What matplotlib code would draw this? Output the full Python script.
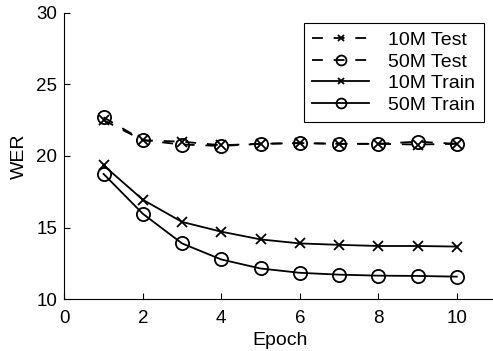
import matplotlib
matplotlib.use("Agg")
import matplotlib.pyplot as plt

plt.rcParams['font.family'] = ['Liberation Sans', 'DejaVu Sans']

epochs = [1, 2, 3, 4, 5, 6, 7, 8, 9, 10]
test_10m = [22.5, 21.1, 21.0, 20.75, 20.85, 20.9, 20.85, 20.85, 20.8, 20.85]
test_50m = [22.7, 21.1, 20.8, 20.7, 20.85, 20.9, 20.85, 20.85, 21.0, 20.85]
train_10m = [19.35, 16.95, 15.4, 14.72, 14.18, 13.9, 13.8, 13.72, 13.72, 13.68]
train_50m = [18.75, 15.97, 13.9, 12.78, 12.15, 11.85, 11.72, 11.65, 11.63, 11.58]
labels = ['10M Test', '50M Test', '10M Train', '50M Train']
xticks = [0, 2, 4, 6, 8, 10]
yticks = [10, 15, 20, 25, 30]

W, H = 493, 351
fig = plt.figure(figsize=(W / 100, H / 100), dpi=100)
ax = fig.add_axes([64.3 / W, 1 - 299.3 / H, (496 - 64.3) / W, 286.6 / H])

lw = 1.3
dash = (0, (6, 6))
ax.plot(epochs, test_10m, color='black', linestyle=dash, lw=lw, marker='x', ms=6.5, mew=1.3, label=labels[0])
ax.plot(epochs, test_50m, color='black', linestyle=dash, lw=lw, marker='o', ms=9.5, mfc='none', mew=1.3, label=labels[1])
ax.plot(epochs, train_10m, color='black', linestyle='-', lw=lw, marker='x', ms=6.5, mew=1.3, label=labels[2])
ax.plot(epochs, train_50m, color='black', linestyle='-', lw=lw, marker='o', ms=9.5, mfc='none', mew=1.3, label=labels[3])

ax.set_xlim(0, 11)
ax.set_ylim(10, 30)
ax.set_xticks(xticks)
ax.set_yticks(yticks)
ax.spines['top'].set_visible(False)
ax.spines['right'].set_visible(False)
ax.tick_params(labelsize=13.5, direction='in', length=4, width=0.8)
ax.tick_params(axis='x', pad=8)
ax.tick_params(axis='y', pad=5)
ax.set_xlabel('Epoch', fontsize=14, labelpad=3)
ax.set_ylabel('WER', fontsize=14, labelpad=6)

leg = ax.legend(loc='upper right', bbox_to_anchor=(484 / W, 1 - 22.7 / H),
                bbox_transform=fig.transFigure, borderaxespad=0, fontsize=14,
                handlelength=2.9, labelspacing=0.2, fancybox=False,
                edgecolor='black', framealpha=1, borderpad=0.45, handletextpad=1.0,
                markerscale=0.75)
leg.get_frame().set_linewidth(0.8)

fig.savefig('out.png', dpi=100)
